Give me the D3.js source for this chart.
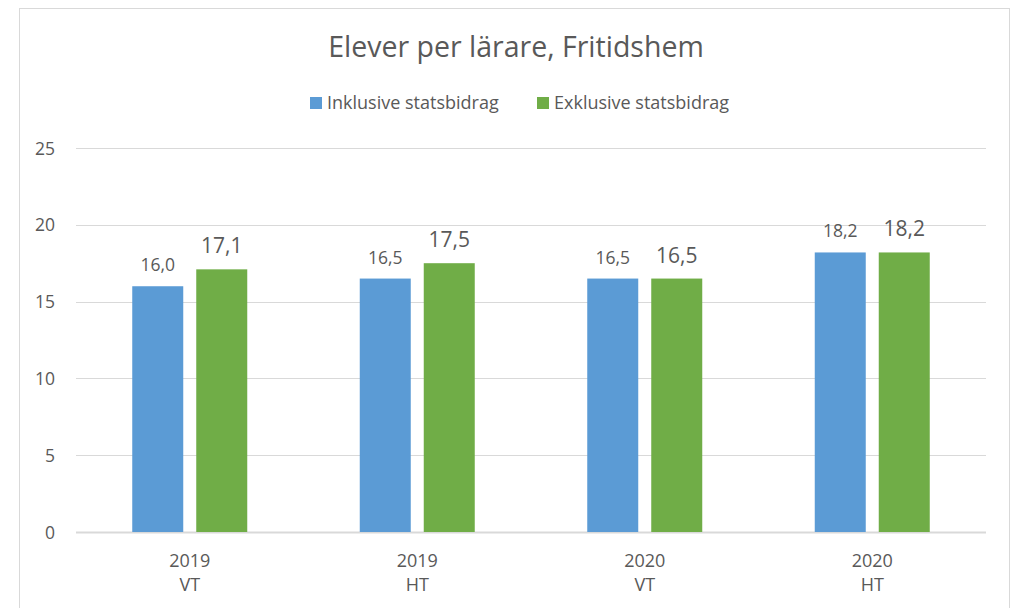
<!DOCTYPE html>
<html>
<head>
<meta charset="utf-8">
<script src="https://cdn.jsdelivr.net/npm/d3@7"></script>
<style>
  body { margin: 0; background: #fff; }
  svg text { font-family: "Open Sans", sans-serif; fill: #595959; }
</style>
</head>
<body>
<div id="chart"></div>
<script>
const years = ["2019", "2019", "2020", "2020"]
const terms = ["VT", "HT", "VT", "HT"]
const seriesNames = ["Inklusive statsbidrag", "Exklusive statsbidrag"]
const inklusive = [16.0, 16.5, 16.5, 18.2]
const exklusive = [17.1, 17.5, 16.5, 18.2]
const yTicks = [0, 5, 10, 15, 20, 25]

const width = 1016
const height = 608
const margin = { top: 148, bottom: 76, left: 76, right: 30 }
const colors = ["#5B9BD5", "#70AD47"]

const svg = d3.select("#chart")
    .append("svg")
    .attr("width", width)
    .attr("height", height)

// outer chart frame
svg.append("rect")
    .attr("x", 19.5).attr("y", 8.5)
    .attr("width", 990).attr("height", 620)
    .attr("fill", "none")
    .attr("stroke", "#D9D9D9")

const cats = d3.range(years.length)
const xScale = d3.scaleBand()
    .domain(cats)
    .range([margin.left, width - margin.right])

const yScale = d3.scaleLinear()
    .domain([0, 25])
    .range([height - margin.bottom, margin.top])

const barW = 51
const gap = 13

// grid
svg.append("g")
    .selectAll("line")
    .data(yTicks)
    .join("line")
    .attr("x1", margin.left)
    .attr("x2", width - margin.right)
    .attr("y1", d => Math.round(yScale(d)) + 0.5)
    .attr("y2", d => Math.round(yScale(d)) + 0.5)
    .attr("stroke", "#D9D9D9")
    .attr("stroke-width", d => d === 0 ? 2 : 1)

// y axis labels
const yAxis = d3.axisLeft(yScale).tickValues(yTicks).tickSize(0).tickPadding(0)
svg.append("g")
    .attr("transform", `translate(55,0)`)
    .call(yAxis)
    .call(g => g.select(".domain").remove())
    .selectAll("text")
    .style("font-size", "17.5px")
    .attr("dy", "0.35em")

// bars
const series = [inklusive, exklusive]
series.forEach((vals, s) => {
    const xOff = s === 0 ? -(barW + gap / 2) : gap / 2
    const g = svg.append("g")
    g.selectAll("rect")
        .data(vals)
        .join("rect")
        .attr("x", (d, i) => xScale(i) + xScale.bandwidth() / 2 + xOff)
        .attr("width", barW)
        .attr("y", d => yScale(d))
        .attr("height", d => yScale(0) - yScale(d))
        .attr("fill", colors[s])
    g.selectAll("text")
        .data(vals)
        .join("text")
        .attr("x", (d, i) => xScale(i) + xScale.bandwidth() / 2 + xOff + barW / 2)
        .attr("y", d => yScale(d) - (s === 0 ? 15 : 16))
        .attr("text-anchor", "middle")
        .style("font-size", s === 0 ? "17.5px" : "21px")
        .text(d => d3.format(".1f")(d).replace(".", ","))
})

// x labels
const xl = svg.append("g")
xl.selectAll("text.year")
    .data(cats)
    .join("text")
    .attr("class", "year")
    .attr("x", d => xScale(d) + xScale.bandwidth() / 2)
    .attr("y", 567)
    .attr("text-anchor", "middle")
    .style("font-size", "18px")
    .text(d => years[d])
xl.selectAll("text.term")
    .data(cats)
    .join("text")
    .attr("class", "term")
    .attr("x", d => xScale(d) + xScale.bandwidth() / 2)
    .attr("y", 591)
    .attr("text-anchor", "middle")
    .style("font-size", "18px")
    .text(d => terms[d])

// title
svg.append("text")
    .attr("x", 516)
    .attr("y", 57)
    .attr("text-anchor", "middle")
    .style("font-size", "28.5px")
    .text("Elever per lärare, Fritidshem")

// legend
const legendX = [310, 537]
const legend = svg.append("g")
seriesNames.forEach((name, i) => {
    legend.append("rect")
        .attr("x", legendX[i]).attr("y", 97)
        .attr("width", 12).attr("height", 12)
        .attr("fill", colors[i])
    legend.append("text")
        .attr("x", legendX[i] + 17)
        .attr("y", 109)
        .style("font-size", "18px")
        .text(name)
})
</script>
</body>
</html>
